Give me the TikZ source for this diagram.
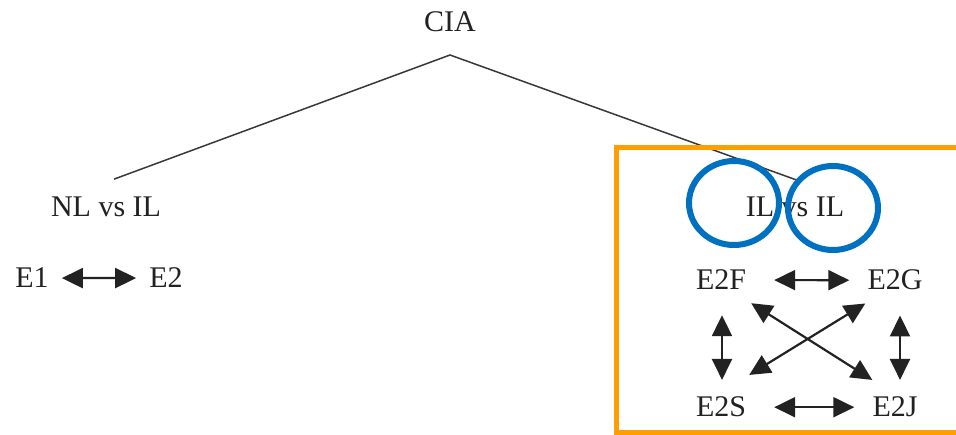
\documentclass[tikz,border=0pt]{standalone}
\usepackage{fontspec}
\setmainfont{Liberation Serif}
\usetikzlibrary{arrows.meta}
\definecolor{frameorange}{HTML}{FF9E00}
\definecolor{ringblue}{HTML}{0070C0}
\definecolor{ink}{HTML}{222222}
\tikzset{
  lbl/.style={inner sep=0pt, anchor=base, text=ink, font=\fontsize{30}{36}\selectfont},
  branch/.style={draw=ink!90, line width=1.5pt},
  dbl/.style={draw=ink, line width=2.2pt, {Triangle[length=21pt,width=20pt]}-{Triangle[length=21pt,width=20pt]}},
  ring/.style={draw=ringblue, line width=6pt},
  frame/.style={draw=frameorange, line width=5pt}
}
\begin{document}
\begin{tikzpicture}[x=1pt,y=-1pt]
\useasboundingbox (0,0) rectangle (956,435);

% labels
\node[lbl] (cia)  at (450,32)  {CIA};
\node[lbl] (nl)   at (106,217) {NL vs IL};
\node[lbl] (e1)   at (32,288)  {E1};
\node[lbl] (e2)   at (166,288) {E2};
\node[lbl] (ilil) at (795,217) {IL vs IL};
\node[lbl] (e2f)  at (721,290) {E2F};
\node[lbl] (e2g)  at (895,290) {E2G};
\node[lbl] (e2s)  at (721,417) {E2S};
\node[lbl] (e2j)  at (895,417) {E2J};

% tree branches
\coordinate (apex) at (450,55);
\draw[branch] ([shift={(8,-18)}]nl.north) -- (apex) -- ([shift={(2,-17)}]ilil.north);

% highlight frame and rings
\draw[frame] (616,148) rectangle (962,433);
\draw[ring] (734,203) ellipse [x radius=45, y radius=42];
\draw[ring] (833,208) ellipse [x radius=45, y radius=42];

% relations
\draw[dbl] ([xshift=13]e1.east) -- ([xshift=-13]e2.west);
\draw[dbl] ([xshift=28]e2f.east) -- ([xshift=-18]e2g.west);
\draw[dbl] ([xshift=28]e2s.east) -- ([xshift=-18]e2j.west);
\draw[dbl] ([shift={(1,25)}]e2f.south) -- ([shift={(1,-17)}]e2s.north);
\draw[dbl] ([shift={(5,25)}]e2g.south) -- ([shift={(5,-17)}]e2j.north);
\draw[dbl] ([shift={(5,13)}]e2f.south east) -- ([shift={(0,-17)}]e2j.north west);
\draw[dbl] ([shift={(-2,13)}]e2g.south west) -- ([shift={(3,-22)}]e2s.north east);
\end{tikzpicture}
\end{document}
